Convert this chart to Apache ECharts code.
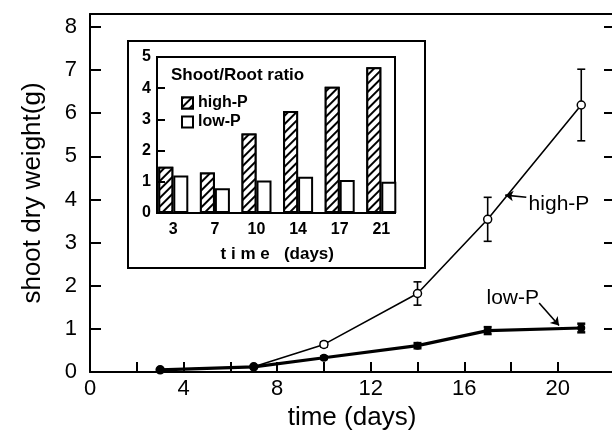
<!DOCTYPE html>
<html>
<head>
<meta charset="utf-8">
<script src="https://cdn.jsdelivr.net/npm/echarts@6/dist/echarts.min.js"></script>
<style>
  html, body { margin: 0; padding: 0; background: #fff; }
  #chart { width: 612px; height: 434px; }
</style>
</head>
<body>
<div id="chart"></div>
<script>
// shoot dry weight (g) over time
const days = [3, 7, 10, 14, 17, 21];
const highP = [0.05, 0.12, 0.64, 1.82, 3.54, 6.19];
const highPErr = [0, 0, 0.06, 0.27, 0.51, 0.83];
const lowP = [0.05, 0.12, 0.33, 0.61, 0.96, 1.02];
const lowPErr = [0, 0, 0.03, 0.06, 0.08, 0.1];

// x ticks / labels of the main plot
const dayTicks = [2, 4, 6, 8, 10, 12, 14, 16, 18, 20];
const dayLabels = [0, 4, 8, 12, 16, 20];

// inset: shoot/root ratio
const ratioDays = ['3', '7', '10', '14', '17', '21'];
const ratioHigh = [1.48, 1.30, 2.55, 3.27, 4.05, 4.67];
const ratioLow = [1.20, 0.79, 1.04, 1.16, 1.06, 1.00];

// annotation anchors, in data units [day, weight]
const highLabelAt = [18.75, 3.9];
const highArrow = [[18.65, 4.05], [17.75, 4.1]];
const lowLabelAt = [16.95, 1.7];
const lowArrow = [[19.2, 1.6], [20.05, 1.08]];

const FONT = 'Liberation Sans';
const chart = echarts.init(document.getElementById('chart'));

// vertical error bars with caps
function errorBars(vals, errs, lw) {
  return {
    type: 'custom',
    xAxisIndex: 0,
    yAxisIndex: 0,
    z: 3,
    silent: true,
    data: days.map((d, i) => [d, vals[i] - errs[i], vals[i] + errs[i], errs[i]]),
    renderItem(params, api) {
      if (!api.value(3)) return null;
      const lo = api.coord([api.value(0), api.value(1)]);
      const hi = api.coord([api.value(0), api.value(2)]);
      const h = 4;
      const style = { stroke: '#000', lineWidth: lw };
      return {
        type: 'group',
        children: [
          { type: 'line', shape: { x1: lo[0], y1: lo[1], x2: hi[0], y2: hi[1] }, style },
          { type: 'line', shape: { x1: lo[0] - h, y1: lo[1], x2: lo[0] + h, y2: lo[1] }, style },
          { type: 'line', shape: { x1: hi[0] - h, y1: hi[1], x2: hi[0] + h, y2: hi[1] }, style },
        ],
      };
    },
  };
}

const hatch = {
  symbol: 'rect',
  symbolSize: 1,
  dashArrayX: [1, 0],
  dashArrayY: [1.6, 4],
  rotation: -Math.PI / 4,
  color: '#000',
  backgroundColor: '#fff',
};

const blackAxis = { onZero: false, lineStyle: { color: '#000', width: 2 } };

chart.setOption({
  animation: false,
  backgroundColor: '#fff',
  textStyle: { fontFamily: FONT, color: '#000' },
  title: {
    text: 'Shoot/Root ratio',
    left: 166,
    top: 62,
    z: 10,
    textStyle: { fontFamily: FONT, fontSize: 17, fontWeight: 'bold', color: '#000' },
  },
  legend: {
    data: ['high-P', 'low-P'],
    orient: 'vertical',
    left: 176,
    top: 90,
    z: 10,
    icon: 'rect',
    itemWidth: 11,
    itemHeight: 11,
    itemGap: 3,
    selectedMode: false,
    textStyle: { fontFamily: FONT, fontSize: 16, fontWeight: 'bold', color: '#000' },
  },
  grid: [
    { left: 90, top: 14, width: 524, height: 358, outerBoundsMode: 'none' },
    { left: 128, top: 41, width: 297, height: 227, outerBoundsMode: 'none', show: true, backgroundColor: '#fff', borderColor: '#000', borderWidth: 2, z: 5 },
    { left: 157, top: 57, width: 238, height: 156, outerBoundsMode: 'none', show: true, borderColor: '#000', borderWidth: 2, z: 6 },
    { left: 152.5, top: 57, width: 249.6, height: 156, outerBoundsMode: 'none', z: 6 },
  ],
  xAxis: [
    {
      gridIndex: 0, type: 'value', min: 0, max: 22.4,
      axisLine: blackAxis,
      axisTick: { inside: true, length: 10, customValues: dayTicks, lineStyle: { color: '#000', width: 2 } },
      axisLabel: { margin: 6, fontSize: 22, color: '#000', fontFamily: FONT, customValues: dayLabels },
      splitLine: { show: false },
      name: 'time (days)', nameLocation: 'middle', nameGap: 29,
      nameTextStyle: { fontSize: 26, color: '#000', fontFamily: FONT },
    },
    {
      gridIndex: 0, type: 'value', min: 0, max: 22.4, position: 'top',
      axisLine: blackAxis, axisTick: { show: false }, axisLabel: { show: false }, splitLine: { show: false },
    },
    { gridIndex: 1, type: 'value', show: false },
    { gridIndex: 2, type: 'value', show: false },
    {
      gridIndex: 3, type: 'category', data: ratioDays, z: 10,
      axisLine: { show: false }, axisTick: { show: false },
      axisLabel: { margin: 9, fontSize: 16, fontWeight: 'bold', color: '#000', fontFamily: FONT },
      name: 't i m e   (days)', nameLocation: 'middle', nameGap: 33,
      nameTextStyle: { fontSize: 17, fontWeight: 'bold', color: '#000', fontFamily: FONT },
    },
  ],
  yAxis: [
    {
      gridIndex: 0, type: 'value', min: 0, max: 8.3, interval: 1,
      axisLine: blackAxis,
      axisTick: { inside: true, length: 11, lineStyle: { color: '#000', width: 2 } },
      axisLabel: {
        margin: 13, fontSize: 22, color: '#000', fontFamily: FONT,
        formatter: (v) => (Number.isInteger(v) ? String(v) : ''),
      },
      splitLine: { show: false },
      name: 'shoot dry weight(g)', nameLocation: 'middle', nameGap: 44, nameRotate: 90,
      nameTextStyle: { fontSize: 26, color: '#000', fontFamily: FONT },
    },
    {
      gridIndex: 0, type: 'value', min: 0, max: 8.3, interval: 1, position: 'right',
      axisLine: blackAxis,
      axisTick: { inside: true, length: 10, lineStyle: { color: '#000', width: 2 } },
      axisLabel: { show: false }, splitLine: { show: false },
    },
    { gridIndex: 1, type: 'value', show: false },
    {
      gridIndex: 2, type: 'value', min: 0, max: 5, interval: 1, z: 10,
      axisLine: { show: false },
      axisTick: { inside: true, length: 8, lineStyle: { color: '#000', width: 2 } },
      axisLabel: { margin: 6, fontSize: 16, fontWeight: 'bold', color: '#000', fontFamily: FONT },
      splitLine: { show: false },
    },
    { gridIndex: 3, type: 'value', min: 0, max: 5, show: false },
  ],
  series: [
    {
      name: 'high-P weight', type: 'line', xAxisIndex: 0, yAxisIndex: 0, z: 4,
      data: days.map((d, i) => [d, highP[i]]),
      symbol: 'circle', symbolSize: 8,
      itemStyle: { color: '#fff', borderColor: '#000', borderWidth: 1.5 },
      lineStyle: { color: '#000', width: 1.6 },
      markPoint: {
        symbol: 'circle', symbolSize: 0,
        label: { show: true, position: 'right', distance: 0, fontSize: 21, color: '#000', fontFamily: FONT, formatter: 'high-P' },
        data: [{ coord: highLabelAt }],
      },
      markLine: {
        symbol: ['none', 'arrow'], symbolSize: 8, silent: true,
        label: { show: false },
        lineStyle: { color: '#000', width: 1.6, type: 'solid', curveness: 0.25 },
        data: [[{ coord: highArrow[0] }, { coord: highArrow[1] }]],
      },
    },
    {
      name: 'low-P weight', type: 'line', xAxisIndex: 0, yAxisIndex: 0, z: 5,
      data: days.map((d, i) => [d, lowP[i]]),
      symbol: 'circle', symbolSize: 8,
      itemStyle: { color: '#000' },
      lineStyle: { color: '#000', width: 3.2 },
      markPoint: {
        symbol: 'circle', symbolSize: 0,
        label: { show: true, position: 'right', distance: 0, fontSize: 21, color: '#000', fontFamily: FONT, formatter: 'low-P' },
        data: [{ coord: lowLabelAt }],
      },
      markLine: {
        symbol: ['none', 'arrow'], symbolSize: 8, silent: true,
        label: { show: false },
        lineStyle: { color: '#000', width: 1.6, type: 'solid', curveness: 0.45 },
        data: [[{ coord: lowArrow[0] }, { coord: lowArrow[1] }]],
      },
    },
    errorBars(highP, highPErr, 1.6),
    errorBars(lowP, lowPErr, 2.5),
    {
      name: 'high-P', type: 'bar', xAxisIndex: 4, yAxisIndex: 4, z: 7,
      data: ratioHigh, barWidth: 15, barGap: '0%',
      itemStyle: { color: '#fff', borderColor: '#000', borderWidth: 2, decal: hatch },
    },
    {
      name: 'low-P', type: 'bar', xAxisIndex: 4, yAxisIndex: 4, z: 7,
      data: ratioLow, barWidth: 15, barGap: '0%',
      itemStyle: { color: '#fff', borderColor: '#000', borderWidth: 2 },
    },
  ],
});
</script>
</body>
</html>
